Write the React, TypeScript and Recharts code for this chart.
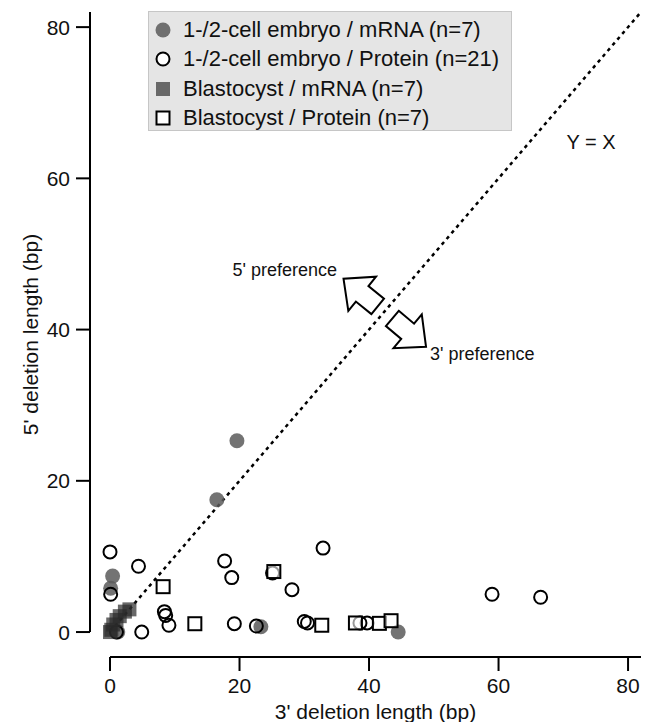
import { ScatterChart, Scatter, XAxis, YAxis, ReferenceLine, ReferenceDot } from "recharts"

// 1-/2-cell embryo, mRNA injection
const embryoMrnaX = [19.6, 16.5, 0.4, 0.1, 23.3, 44.5, 1.2]
const embryoMrnaY = [25.3, 17.5, 7.4, 5.8, 0.7, 0, 0]

// 1-/2-cell embryo, protein injection
const embryoProteinX = [0, 4.4, 0.1, 8.4, 8.6, 9.1, 1.0, 4.9, 17.7, 18.8, 25.1, 28.1, 19.2, 22.6, 30.0, 30.5, 32.9, 38.6, 39.7, 59.0, 66.5]
const embryoProteinY = [10.6, 8.7, 5.0, 2.7, 2.2, 0.9, 0, 0, 9.4, 7.2, 7.8, 5.6, 1.1, 0.8, 1.4, 1.2, 11.1, 1.2, 1.2, 5.0, 4.6]

// Blastocyst, mRNA
const blastMrnaX = [0, 0.2, 0.5, 1.0, 1.5, 2.3, 3.0]
const blastMrnaY = [0, 0.3, 1.0, 1.6, 2.1, 2.7, 3.0]

// Blastocyst, protein
const blastProteinX = [8.2, 13.1, 25.3, 32.7, 37.9, 41.6, 43.4]
const blastProteinY = [6.0, 1.1, 8.0, 0.9, 1.2, 1.15, 1.5]

const ticks = [0, 20, 40, 60, 80]
const legendLabels = [
  "1-/2-cell embryo / mRNA (n=7)",
  "1-/2-cell embryo / Protein (n=21)",
  "Blastocyst / mRNA (n=7)",
  "Blastocyst / Protein (n=7)",
]

const xMin = -3.09
const xMax = 82
const yMin = -3.3
const yMax = 82

const font = "'Liberation Sans', Arial, Helvetica, sans-serif"

const toPoints = (xs: number[], ys: number[]) => xs.map((x, i) => ({ x, y: ys[i] }))

const FilledCircle = (p: any) => <circle cx={p.cx} cy={p.cy} r={7.5} fill="#5a5a5a" fillOpacity={0.85} />
const OpenCircle = (p: any) => <circle cx={p.cx} cy={p.cy} r={6.5} fill="none" stroke="#000" strokeWidth={2} />
const FilledSquare = (p: any) => <rect x={p.cx - 7} y={p.cy - 7} width={14} height={14} fill="#2a2a2a" fillOpacity={0.7} />
const OpenSquare = (p: any) => (
  <rect x={p.cx - 6.5} y={p.cy - 6.5} width={13} height={13} fill="#fff" fillOpacity={0.6} stroke="#000" strokeWidth={2} />
)

// hollow block arrow, pointing along +x before rotation
const Arrow = (angle: number) => (p: any) => (
  <polygon
    points="-22,-10 -2,-10 -2,-22 22,0 -2,22 -2,10 -22,10"
    transform={`translate(${p.cx} ${p.cy}) rotate(${angle})`}
    fill="#fff"
    stroke="#000"
    strokeWidth={2}
    strokeLinejoin="miter"
  />
)

const Note = (text: string, size = 18) => (p: any) => (
  <text x={p.cx} y={p.cy} textAnchor="middle" dominantBaseline="central" fontSize={size} fontFamily={font} fill="#111">
    {text}
  </text>
)

function LegendBox() {
  const markers = [
    <circle cx={8} cy={8} r={7.5} fill="#5a5a5a" fillOpacity={0.85} />,
    <circle cx={8} cy={8} r={6.5} fill="#fff" stroke="#000" strokeWidth={2} />,
    <rect x={1} y={1} width={14} height={14} fill="#333" fillOpacity={0.7} />,
    <rect x={1.5} y={1.5} width={13} height={13} fill="#fff" stroke="#000" strokeWidth={2} />,
  ]
  return (
    <div
      style={{
        position: "absolute",
        left: 148,
        top: 11,
        width: 364,
        height: 120,
        boxSizing: "border-box",
        background: "#e5e5e5",
        border: "1px solid #c6c6c6",
        paddingTop: 3,
        fontFamily: font,
        fontSize: 22,
        color: "#111",
      }}
    >
      {legendLabels.map((label, i) => (
        <div key={label} style={{ height: 29.5, display: "flex", alignItems: "center" }}>
          <svg width={16} height={16} style={{ marginLeft: 6, marginRight: 12 }}>
            {markers[i]}
          </svg>
          <span style={{ whiteSpace: "nowrap" }}>{label}</span>
        </div>
      ))}
    </div>
  )
}

export default function App() {
  return (
    <div style={{ position: "absolute", left: 0, top: 0, width: 654, height: 722, background: "#fff" }}>
      <ScatterChart width={654} height={722} margin={{ top: 12, right: 13, bottom: 0, left: 0 }}>
        <XAxis
          type="number"
          dataKey="x"
          domain={[xMin, xMax]}
          ticks={ticks}
          allowDataOverflow
          axisLine={false}
          tickLine={{ stroke: "#000", strokeWidth: 2 }}
          tickSize={14}
          tickMargin={7}
          height={65}
          tick={{ fill: "#111", fontSize: 21, fontFamily: font }}
          label={{
            content: (props: any) => {
              const vb = props.viewBox
              return (
                <text x={vb.x + 20 + (vb.width - 20) / 2} y={719} textAnchor="middle" fontSize={21} fontFamily={font} fill="#111">
                  3' deletion length (bp)
                </text>
              )
            },
          }}
        />
        <YAxis
          type="number"
          dataKey="y"
          domain={[yMin, yMax]}
          ticks={ticks}
          allowDataOverflow
          axisLine={false}
          tickLine={{ stroke: "#000", strokeWidth: 2 }}
          tickSize={14}
          tickMargin={6}
          width={90}
          tick={{ fill: "#111", fontSize: 21, fontFamily: font }}
          label={{
            content: (props: any) => {
              const vb = props.viewBox
              const cx = 30
              const cy = vb.y + vb.height / 2
              return (
                <text
                  x={cx}
                  y={cy}
                  transform={`rotate(-90 ${cx} ${cy})`}
                  textAnchor="middle"
                  dominantBaseline="central"
                  fontSize={21}
                  fontFamily={font}
                  fill="#111"
                >
                  5' deletion length (bp)
                </text>
              )
            },
          }}
        />
        {/* detached axis lines starting at 0 */}
        <ReferenceLine segment={[{ x: 0, y: yMin }, { x: xMax, y: yMin }]} stroke="#000" strokeWidth={2} ifOverflow="visible" />
        <ReferenceLine segment={[{ x: xMin, y: 0 }, { x: xMin, y: yMax }]} stroke="#000" strokeWidth={2} ifOverflow="visible" />
        {/* Y = X */}
        <ReferenceLine
          segment={[{ x: 0, y: 0 }, { x: 82, y: 82 }]}
          stroke="#000"
          strokeWidth={2.5}
          strokeDasharray="3.5 4"
          ifOverflow="visible"
        />
        <ReferenceDot x={74.3} y={64.8} r={0} shape={Note("Y = X", 20)} ifOverflow="visible" />
        <ReferenceDot x={27.0} y={47.9} r={0} shape={Note("5' preference")} ifOverflow="visible" />
        <ReferenceDot x={57.5} y={36.8} r={0} shape={Note("3' preference")} ifOverflow="visible" />
        <ReferenceDot x={38.7} y={44.9} r={0} shape={Arrow(219)} ifOverflow="visible" />
        <ReferenceDot x={46.2} y={39.6} r={0} shape={Arrow(40)} ifOverflow="visible" />

        <Scatter name="1-/2-cell embryo / mRNA" data={toPoints(embryoMrnaX, embryoMrnaY)} shape={FilledCircle} isAnimationActive={false} />
        <Scatter name="1-/2-cell embryo / Protein" data={toPoints(embryoProteinX, embryoProteinY)} shape={OpenCircle} isAnimationActive={false} />
        <Scatter name="Blastocyst / mRNA" data={toPoints(blastMrnaX, blastMrnaY)} shape={FilledSquare} isAnimationActive={false} />
        <Scatter name="Blastocyst / Protein" data={toPoints(blastProteinX, blastProteinY)} shape={OpenSquare} isAnimationActive={false} />
      </ScatterChart>
      <LegendBox />
    </div>
  )
}
